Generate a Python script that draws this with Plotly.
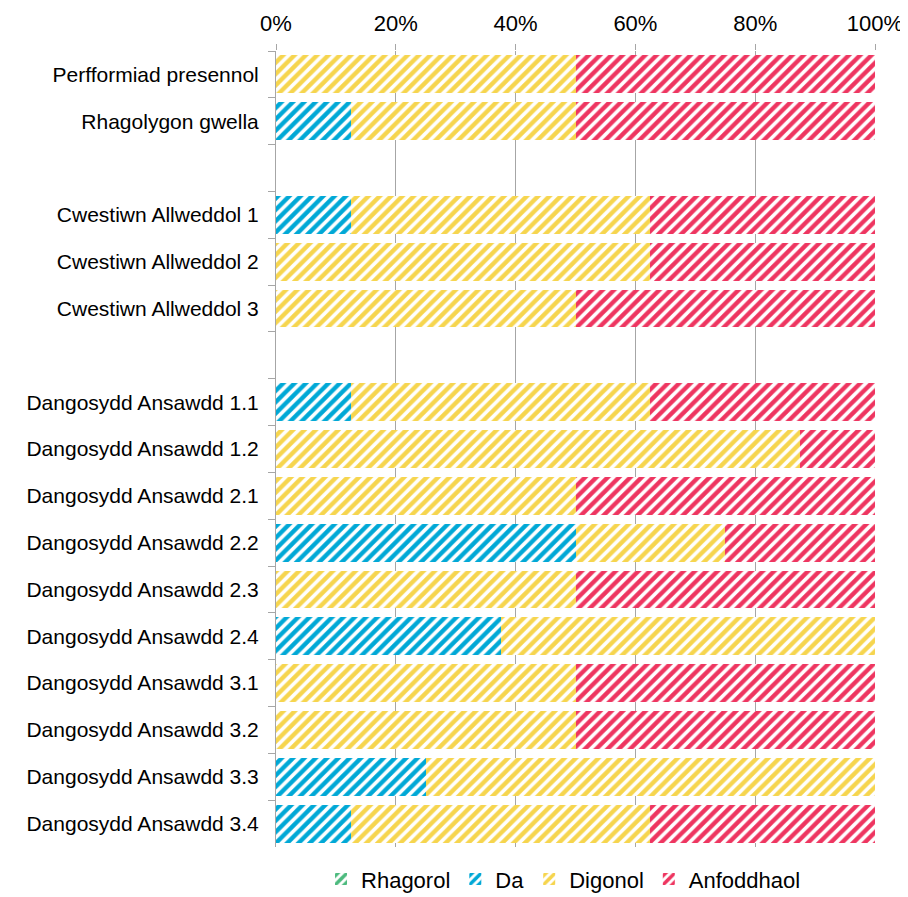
import plotly.graph_objects as go

categories = [
    "Perfformiad presennol", "Rhagolygon gwella", " ",
    "Cwestiwn Allweddol 1", "Cwestiwn Allweddol 2", "Cwestiwn Allweddol 3", "  ",
    "Dangosydd Ansawdd 1.1", "Dangosydd Ansawdd 1.2", "Dangosydd Ansawdd 2.1",
    "Dangosydd Ansawdd 2.2", "Dangosydd Ansawdd 2.3", "Dangosydd Ansawdd 2.4",
    "Dangosydd Ansawdd 3.1", "Dangosydd Ansawdd 3.2", "Dangosydd Ansawdd 3.3",
    "Dangosydd Ansawdd 3.4",
]
rhagorol   = [0, 0, None, 0, 0, 0, None, 0, 0, 0, 0, 0, 0, 0, 0, 0, 0]
da         = [0, 12.5, None, 12.5, 0, 0, None, 12.5, 0, 0, 50, 0, 37.5, 0, 0, 25, 12.5]
digonol    = [50, 37.5, None, 50, 62.5, 50, None, 50, 87.5, 50, 25, 50, 62.5, 50, 50, 75, 50]
anfoddhaol = [50, 50, None, 37.5, 37.5, 50, None, 37.5, 12.5, 50, 25, 50, 0, 50, 50, 0, 37.5]

series = [
    ("Rhagorol", rhagorol, "#4cba7e"),
    ("Da", da, "#00a8d6"),
    ("Digonol", digonol, "#f6d54e"),
    ("Anfoddhaol", anfoddhaol, "#ee3560"),
]

fig = go.Figure()
for name, vals, col in series:
    fig.add_trace(go.Bar(
        y=categories, x=vals, name=name, orientation="h",
        marker=dict(
            color=col, line=dict(width=0),
            pattern=dict(shape="/", fgcolor=col, bgcolor="white",
                         fillmode="replace", size=8, solidity=0.55),
        ),
    ))

fig.update_layout(
    barmode="stack",
    bargap=0.19,
    width=900, height=889,
    margin=dict(l=268, r=33, t=43, b=50),
    paper_bgcolor="white", plot_bgcolor="white",
    font=dict(family="Liberation Sans, Arial, sans-serif", color="black"),
    legend=dict(orientation="h", x=0.48, xanchor="center",
                yref="container", y=0.02, yanchor="middle",
                font=dict(size=22), traceorder="normal", itemwidth=30,
                tracegroupgap=0),
    xaxis=dict(side="top", range=[0, 100], dtick=20, ticksuffix="%",
               showgrid=True, gridcolor="#a6a6a6", gridwidth=1,
               ticks="outside", ticklen=6, tickcolor="#a6a6a6",
               showline=False, zeroline=False, automargin=False,
               ticklabelstandoff=4,
               tickfont=dict(size=22)),
    yaxis=dict(autorange="reversed", type="category", tickson="boundaries",
               ticks="outside", ticklen=7, tickcolor="#a6a6a6",
               showline=True, linecolor="#a6a6a6", linewidth=1,
               showgrid=False, automargin=False, ticklabelstandoff=12,
               tickfont=dict(size=21)),
)

fig.write_html("out.html")
